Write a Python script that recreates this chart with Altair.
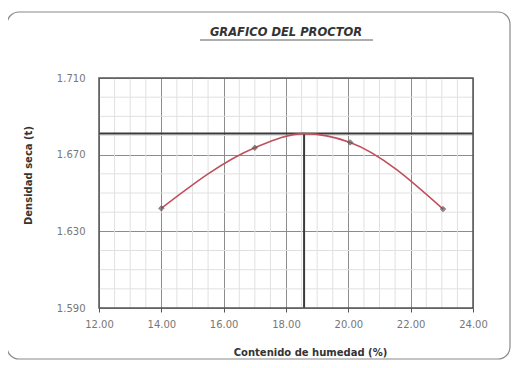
import altair as alt
import pandas as pd
import numpy as np

# Measured points (moisture %, dry density)
moisture = [14.00, 17.00, 20.06, 23.04]
density = [1.642, 1.6736, 1.6764, 1.6416]
# Optimum point (from the reference lines)
omc = 18.58
mdd = 1.681

x_ticks = [12, 14, 16, 18, 20, 22, 24]
y_ticks = [1.59, 1.63, 1.67, 1.71]
x_minor = [v for v in np.arange(12.5, 24, 0.5) if v % 2 != 0]
y_minor = [round(v, 3) for v in np.arange(1.60, 1.71, 0.01)]
y_minor = [v for v in y_minor if v not in (1.63, 1.67)]

W, H = 374, 230
FONT = "DejaVu Sans"

pts = pd.DataFrame({"x": moisture, "y": density})
curve = pd.DataFrame({"x": moisture[:2] + [omc] + moisture[2:],
                      "y": density[:2] + [mdd] + density[2:]})

xs = alt.Scale(domain=[12, 24], nice=False, zero=False)
ys = alt.Scale(domain=[1.59, 1.71], nice=False, zero=False)

x_axis = alt.Axis(values=x_ticks, format=".2f", grid=True, gridColor="#8c8c8c",
                  gridWidth=1, labelFont=FONT, labelFontSize=10, labelColor="#777",
                  labelPadding=7, labelFlush=False, tickSize=4, tickColor="#555",
                  domain=False,
                  title="Contenido de humedad (%)", titleFont=FONT, titleFontSize=10,
                  titleFontWeight="bold", titleColor="#333", titleX=211, titleY=39,
                  titleAlign="center")
y_axis = alt.Axis(values=y_ticks, format=".3f", grid=True, gridColor="#8c8c8c",
                  gridWidth=1, labelFont=FONT, labelFontSize=10, labelColor="#777",
                  labelPadding=14, labelFlush=False, ticks=False, domain=False,
                  title="Densidad seca (t)", titleFont=FONT, titleFontSize=10,
                  titleFontWeight="bold", titleColor="#333", titleX=-71, titleY=97,
                  titleAngle=-90, titleAlign="center", titleBaseline="middle")

X = alt.X("x:Q", scale=xs, axis=x_axis)
Y = alt.Y("y:Q", scale=ys, axis=y_axis)

one = pd.DataFrame({"a": [0]})

border = alt.Chart(one).mark_rect(fillOpacity=0, stroke="#8a8a8a", strokeWidth=1.2,
                                  cornerRadius=12).encode(
    x=alt.value(-92), x2=alt.value(411), y=alt.value(-66), y2=alt.value(281))
frame = alt.Chart(one).mark_rect(fillOpacity=0, stroke="#555", strokeWidth=1.5).encode(
    x=alt.value(0), x2=alt.value(W), y=alt.value(0), y2=alt.value(H))

minor_x = alt.Chart(pd.DataFrame({"x": x_minor})).mark_rule(
    color="#e0e0e0", strokeWidth=1).encode(x=X)
minor_y = alt.Chart(pd.DataFrame({"y": y_minor})).mark_rule(
    color="#e0e0e0", strokeWidth=1).encode(y=Y)

base = alt.Chart(pts).mark_point(opacity=0).encode(x=X, y=Y)

h_rule = alt.Chart(pd.DataFrame({"y": [mdd]})).mark_rule(
    color="#3a3a3a", strokeWidth=2).encode(y=Y)
v_rule = alt.Chart(pd.DataFrame({"x": [omc], "y": [mdd]})).mark_rule(
    color="#3a3a3a", strokeWidth=2).encode(x=X, y=Y, y2=alt.value(H))

line = alt.Chart(curve).mark_line(color="#c0505a", strokeWidth=1.6,
                                  interpolate="monotone").encode(x=X, y=Y)
markers = alt.Chart(pts).mark_point(shape="diamond", size=30, filled=True,
                                    color="#6a5a5a", stroke="#444",
                                    strokeWidth=0.8).encode(x=X, y=Y)

title = alt.Chart(one).mark_text(text="GRAFICO DEL PROCTOR", font=FONT, fontSize=11.5,
                                 fontStyle="italic", fontWeight="bold",
                                 color="#333").encode(x=alt.value(187), y=alt.value(-45))
underline = alt.Chart(one).mark_rule(color="#333", strokeWidth=0.8).encode(
    x=alt.value(101), x2=alt.value(274), y=alt.value(-38))

chart = alt.layer(base, minor_x, minor_y, h_rule, v_rule, line, markers,
                  title, underline, frame, border).properties(
    width=W, height=H,
    autosize=alt.AutoSizeParams(type="none"),
    padding={"left": 91, "top": 70, "right": 38, "bottom": 52},
).configure_view(stroke="#555", strokeWidth=1.5).configure(background="white")

chart.save("out.html", embed_options={"renderer": "svg", "actions": False})
